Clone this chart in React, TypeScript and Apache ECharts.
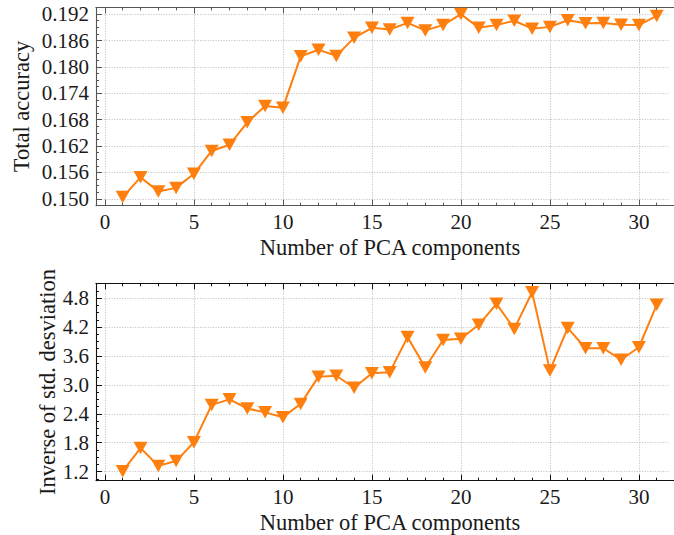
import React, { useEffect, useRef } from "react";
import * as echarts from "echarts";

// ---- data ----
const components = [1, 2, 3, 4, 5, 6, 7, 8, 9, 10, 11, 12, 13, 14, 15, 16, 17, 18, 19, 20, 21, 22, 23, 24, 25, 26, 27, 28, 29, 30, 31];
const totalAccuracy = [
  0.1504, 0.1549, 0.1517, 0.1525, 0.1557, 0.1609, 0.1623, 0.1674, 0.1711, 0.1707,
  0.1824, 0.1839, 0.1825, 0.1866, 0.1889, 0.1885, 0.19, 0.1883, 0.1895, 0.192,
  0.1889, 0.1895, 0.1905, 0.1887, 0.1891, 0.1906, 0.1899, 0.19, 0.1896, 0.1895, 0.1916,
];
const inverseStd = [
  1.21, 1.69, 1.32, 1.42, 1.81, 2.585, 2.7, 2.51, 2.43, 2.33,
  2.605, 3.17, 3.19, 2.94, 3.24, 3.26, 3.99, 3.36, 3.93, 3.955,
  4.245, 4.68, 4.16, 4.92, 3.3, 4.18, 3.76, 3.76, 3.52, 3.78, 4.66,
];
const xTicks = [0, 5, 10, 15, 20, 25, 30];
const topYTicks = [0.15, 0.156, 0.162, 0.168, 0.174, 0.18, 0.186, 0.192];
const bottomYTicks = [1.2, 1.8, 2.4, 3.0, 3.6, 4.2, 4.8];
const xLabel = "Number of PCA components";
const topYLabel = "Total accuracy";
const bottomYLabel = "Inverse of std. desviation";

// ---- layout / style ----
const X_MIN = -0.5;
const X_MAX = 32.5;
const TOP_Y = [0.14845, 0.19355];
const BOT_Y = [1.013, 5.106];
const ORANGE = "#ff7f0e";
const FONT = "Liberation Serif";
const TICK_FS = 21;
const NAME_FS = 22.5;
const TEXT_COLOR = "#1a1a1a";

function minorValues(min: number, max: number, step: number) {
  const out: number[] = [];
  for (let k = Math.ceil(min / step - 1e-9); k * step <= max + 1e-12; k++) {
    out.push(Number((k * step).toFixed(6)));
  }
  return out;
}

const gridLine = { show: true, lineStyle: { color: "#b8b8b8", width: 0.8, type: [1.2, 1.4] } };

function xAxes(gridIndex: number, color: string, margin: number) {
  const minor = minorValues(X_MIN, X_MAX, 1);
  const base = { type: "value", gridIndex, min: X_MIN, max: X_MAX, silent: true };
  return [
    {
      ...base,
      position: "bottom",
      axisLine: { show: true, onZero: false, lineStyle: { color, width: 1.1 } },
      axisTick: { show: true, inside: true, length: 6, customValues: xTicks, lineStyle: { color, width: 1 } },
      axisLabel: {
        show: true, customValues: xTicks, margin, color: TEXT_COLOR, fontFamily: FONT, fontSize: TICK_FS,
        formatter: (v: number) => String(v),
      },
      splitLine: gridLine,
    },
    {
      ...base,
      position: "bottom",
      axisLine: { show: false, onZero: false },
      axisTick: { show: true, inside: true, length: 3, customValues: minor, lineStyle: { color, width: 1 } },
      axisLabel: { show: false },
      splitLine: { show: false },
    },
    {
      ...base,
      position: "top",
      axisLine: { show: true, onZero: false, lineStyle: { color, width: 1.1 } },
      axisTick: { show: true, inside: true, length: 6, customValues: xTicks, lineStyle: { color, width: 1 } },
      axisLabel: { show: false },
      splitLine: { show: false },
    },
    {
      ...base,
      position: "top",
      axisLine: { show: false, onZero: false },
      axisTick: { show: true, inside: true, length: 3, customValues: minor, lineStyle: { color, width: 1 } },
      axisLabel: { show: false },
      splitLine: { show: false },
    },
  ];
}

function yAxes(gridIndex: number, color: string, ext: number[], ticks: number[], minorStep: number, digits: number) {
  const minor = minorValues(ext[0], ext[1], minorStep);
  const base = { type: "value", gridIndex, min: ext[0], max: ext[1], position: "left", silent: true };
  return [
    {
      ...base,
      axisLine: { show: true, onZero: false, lineStyle: { color, width: 1.1 } },
      axisTick: { show: true, inside: true, length: 6, customValues: ticks, lineStyle: { color, width: 1 } },
      axisLabel: {
        show: true, customValues: ticks, margin: 7, color: TEXT_COLOR, fontFamily: FONT, fontSize: TICK_FS,
        formatter: (v: number) => v.toFixed(digits),
      },
      splitLine: gridLine,
    },
    {
      ...base,
      axisLine: { show: false, onZero: false },
      axisTick: { show: true, inside: true, length: 3, customValues: minor, lineStyle: { color, width: 1 } },
      axisLabel: { show: false },
      splitLine: { show: false },
    },
  ];
}

function lineSeries(xAxisIndex: number, yAxisIndex: number, values: number[]) {
  return {
    type: "line",
    xAxisIndex,
    yAxisIndex,
    data: components.map((c, i) => [c, values[i]]),
    symbol: "triangle",
    symbolRotate: 180,
    symbolSize: [14, 12.5],
    showSymbol: true,
    clip: false,
    lineStyle: { color: ORANGE, width: 2 },
    itemStyle: { color: ORANGE, borderWidth: 0 },
    z: 5,
  };
}

function nameText(text: string, x: number, y: number, vertical: boolean) {
  return {
    type: "text",
    x,
    y,
    rotation: vertical ? Math.PI / 2 : 0,
    silent: true,
    style: {
      text,
      fill: TEXT_COLOR,
      font: `${NAME_FS}px "${FONT}"`,
      align: "center",
      verticalAlign: "middle",
    },
  };
}

// white strip that hides a stray vertical frame line near the cropped right edge
function edgeMask(top: number, height: number) {
  return {
    type: "rect",
    silent: true,
    z: 100,
    shape: { x: 668.5, y: top + 1.5, width: 12, height: height - 3 },
    style: { fill: "#ffffff" },
  };
}

export default function App() {
  const ref = useRef<HTMLDivElement>(null);
  useEffect(() => {
    if (!ref.current) return;
    const chart = echarts.init(ref.current, null, { renderer: "svg" });
    const topColor = "#555555";
    const botColor = "#111111";
    chart.setOption({
      animation: false,
      backgroundColor: "#ffffff",
      grid: [
        { left: 96, top: 7.3, width: 587.4, height: 198.4, outerBoundsMode: "none" },
        { left: 96, top: 283.3, width: 587.4, height: 197.4, outerBoundsMode: "none" },
      ],
      xAxis: [...xAxes(0, topColor, 6), ...xAxes(1, botColor, 6)],
      yAxis: [
        ...yAxes(0, topColor, TOP_Y, topYTicks, 0.0015, 3),
        ...yAxes(1, botColor, BOT_Y, bottomYTicks, 0.15, 1),
      ],
      series: [lineSeries(0, 0, totalAccuracy), lineSeries(4, 2, inverseStd)],
      graphic: [
        edgeMask(7.3, 198.4),
        edgeMask(283.3, 197.4),
        nameText(topYLabel, 21, 106.5, true),
        nameText(bottomYLabel, 47, 382, true),
        nameText(xLabel, 390, 247, false),
        nameText(xLabel, 390, 522, false),
      ],
    });
    return () => chart.dispose();
  }, []);
  return (
    <div
      ref={ref}
      style={{ position: "fixed", left: 0, top: 0, width: 720, height: 535, background: "#fff" }}
    />
  );
}
